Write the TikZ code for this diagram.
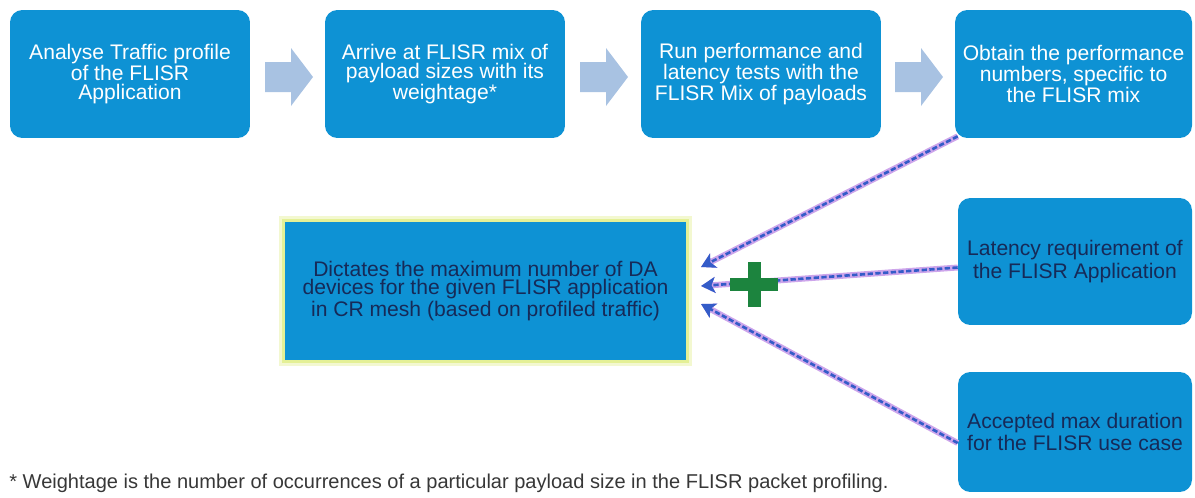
\documentclass[tikz,border=0pt]{standalone}
\usepackage{fontspec}
\setmainfont{Liberation Sans}
\usetikzlibrary{arrows.meta}

\definecolor{boxblue}{RGB}{14,146,212}
\definecolor{chevcol}{RGB}{168,194,226}
\definecolor{navy}{RGB}{22,42,88}
\definecolor{glowcol}{RGB}{228,240,150}
\definecolor{linkblue}{RGB}{52,92,200}
\definecolor{halocol}{RGB}{205,165,235}
\definecolor{plusgreen}{RGB}{28,132,62}
\definecolor{notegray}{RGB}{55,55,55}

\tikzset{
  stepbox/.style={fill=boxblue, rounded corners=7pt, minimum width=4.8cm,
    minimum height=2.56cm, inner sep=0pt, align=center, text=white,
    font=\fontsize{12}{11}\selectfont},
  sidebox/.style={stepbox, minimum width=4.68cm, text=navy,
    font=\fontsize{12}{13}\selectfont},
  resultbox/.style={fill=boxblue, minimum width=8.02cm, minimum height=2.76cm,
    inner sep=0pt, align=center, text=navy, font=\fontsize{12}{10.5}\selectfont},
  link/.style={draw=linkblue, line width=1.5pt, dash pattern=on 3pt off 1.4pt,
    preaction={draw=halocol, line width=3.4pt, solid},
    -{Stealth[length=8pt,width=9pt,inset=2pt]}},
  note/.style={inner sep=0pt, text=notegray, font=\fontsize{11.4}{13}\selectfont}
}

\begin{document}
\begin{tikzpicture}[x=0.02cm, y=-0.02cm]
  \useasboundingbox (0,0) rectangle (1195,497);

  % process row
  \node[stepbox] (analyse) at (130,74) {Analyse Traffic profile\\of the FLISR\\Application};
  \node[stepbox] (arrive) at (445,74) {Arrive at FLISR mix of\\payload sizes with its\\weightage*};
  \node[stepbox] (run) at (761,74) {Run performance and\\latency tests with the\\FLISR Mix of payloads};
  \node[stepbox, minimum width=4.74cm] (obtain) at (1073.5,74) {Obtain the performance\\numbers, specific to\\the FLISR mix};
  \foreach \x in {265,580,895}
    \fill[chevcol] (\x,62) -- ++(26,0) -- ++(0,-14) -- ++(22,29) -- ++(-22,29) -- ++(0,-14) -- ++(-26,0) -- cycle;

  % result box with glow
  \draw[glowcol!45, line width=7pt] (285,222) rectangle (686,360);
  \draw[glowcol, line width=3.5pt] (285,222) rectangle (686,360);
  \node[resultbox] (dictate) at (485.5,291) {Dictates the maximum number of DA\\devices for the given FLISR application\\in CR mesh (based on profiled traffic)};

  % inputs on the right
  \node[sidebox, minimum height=2.54cm] (latency) at (1075,261.5) {Latency requirement of\\the FLISR Application};
  \node[sidebox, minimum height=2.4cm] (duration) at (1075,432) {Accepted max duration\\for the FLISR use case};

  \coordinate (tipa) at (701,267);
  \coordinate (tipb) at (701,286);
  \coordinate (tipc) at (701,304);
  \draw[link] ([shift={(3,-2)}]obtain.south west) -- (tipa);
  \draw[link] ([yshift=-0.12cm]latency.west) -- (tipb);
  \draw[link] ([yshift=-0.22cm]duration.west) -- (tipc);

  % plus sign
  \fill[plusgreen] (730,278) rectangle (778,291);
  \fill[plusgreen] (748,262) rectangle (761,307);

  \node[note, anchor=base west] (footnote) at (9,488) {* Weightage is the number of occurrences of a particular payload size in the FLISR packet profiling.};
\end{tikzpicture}
\end{document}
